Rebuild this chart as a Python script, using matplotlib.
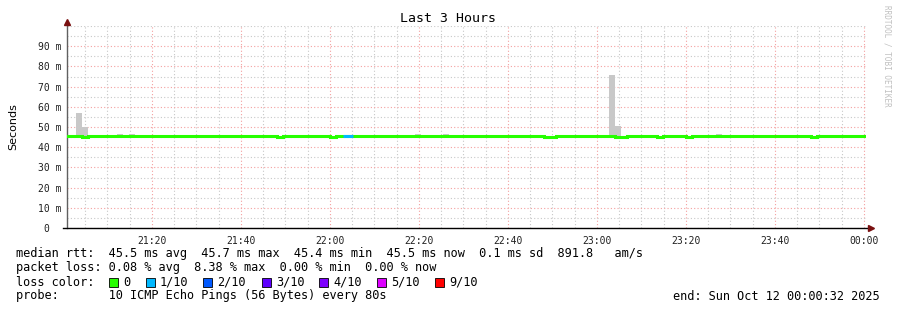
import matplotlib

matplotlib.use("Agg")
import matplotlib.pyplot as plt
from matplotlib.patches import Rectangle
from matplotlib.ticker import MultipleLocator

# time axis in minutes after 21:00, values in ms
x_start, x_end = 0.9, 180.45
x_tick_pos = [20, 40, 60, 80, 100, 120, 140, 160, 180]
x_tick_labels = ["21:20", "21:40", "22:00", "22:20", "22:40", "23:00", "23:20", "23:40", "00:00"]
y_tick_pos = [0, 10, 20, 30, 40, 50, 60, 70, 80, 90]
y_tick_labels = ["0  ", "10 m", "20 m", "30 m", "40 m", "50 m", "60 m", "70 m", "80 m", "90 m"]

# smoke (spread of pings) per 80 s step
smoke_start = [2.92, 4.27, 12.1, 14.8, 79.1, 85.4, 122.7, 124.0, 146.7]
smoke_top = [57.0, 50.0, 46.5, 46.5, 46.3, 46.3, 75.7, 50.5, 46.3]
smoke_bottom = 45.3
step_min = 80 / 60

# median rtt segments
med_start = [0.9, 4.27, 5.6, 48.1, 49.4, 60.0, 61.4, 62.9, 65.2, 108.1, 110.8,
             124.0, 126.7, 133.5, 134.8, 140.0, 141.3, 168.1, 169.4]
med_value = [45.5, 45.2, 45.5, 45.2, 45.5, 45.2, 45.5, 45.5, 45.5, 45.2, 45.5,
             45.2, 45.5, 45.2, 45.5, 45.2, 45.5, 45.2, 45.5]
med_loss = [0, 0, 0, 0, 0, 0, 0, 1, 0, 0, 0, 0, 0, 0, 0, 0, 0, 0, 0]

loss_labels = ["0", "1/10", "2/10", "3/10", "4/10", "5/10", "9/10"]
loss_colors = ["#26ff00", "#00b8ff", "#0059ff", "#5e00ff", "#7e00ff", "#dd00ff", "#ff0000"]
loss_x = [109, 146, 203, 262, 319, 377, 435]

W, H = 897, 310
fig = plt.figure(figsize=(W / 100, H / 100), dpi=100)
fig.patch.set_facecolor("white")
ax = fig.add_axes([67 / W, (H - 228) / H, (866 - 67) / W, 202 / H])

for s, t in zip(smoke_start, smoke_top):
    ax.bar(s, t - smoke_bottom, width=step_min, bottom=smoke_bottom, align="edge",
           color="#c8c8c8", linewidth=0, zorder=2)

# median as one continuous step line, loss-coloured steps drawn on top
ax.step(med_start + [x_end], med_value + [med_value[-1]], where="post",
        color=loss_colors[0], linewidth=2.2, solid_joinstyle="miter", zorder=3)
med_end = med_start[1:] + [x_end]
for s, e, v, l in zip(med_start, med_end, med_value, med_loss):
    if l > 0:
        ax.plot([s, e], [v, v], color=loss_colors[l], linewidth=2.2,
                solid_capstyle="butt", zorder=4)

ax.set_xlim(x_start, x_end)
ax.set_ylim(0, 100)
ax.set_xticks(x_tick_pos)
ax.set_xticklabels(x_tick_labels, family="DejaVu Sans Mono", fontsize=7)
ax.set_yticks(y_tick_pos)
ax.set_yticklabels(y_tick_labels, family="DejaVu Sans Mono", fontsize=7)
ax.xaxis.set_minor_locator(MultipleLocator(5))
ax.yaxis.set_minor_locator(MultipleLocator(5))
ax.tick_params(axis="y", which="both", length=0, pad=4, colors="#202020")
ax.tick_params(axis="x", which="both", length=0, pad=6, colors="#202020")
ax.grid(True, which="major", color="#f4a0a0", linestyle=(0, (1, 2)), linewidth=0.8)
ax.grid(True, which="minor", color="#c8c8c8", linestyle=(0, (1, 2)), linewidth=0.8)
ax.set_axisbelow(True)
for side in ("top", "right", "left", "bottom"):
    ax.spines[side].set_visible(False)
ax.set_ylabel("Seconds", family="DejaVu Sans", fontsize=8, labelpad=14)

# axes lines with arrows
ax.plot([0, 0], [0, 1.02], transform=ax.transAxes, color="#606060", lw=1, clip_on=False)
ax.plot([-0.005, 1.005], [0, 0], transform=ax.transAxes, color="black", lw=1, clip_on=False)
ax.plot([0], [1.02], marker="^", ms=4, color="#7a1010", transform=ax.transAxes, clip_on=False)
ax.plot([1.006], [0], marker=">", ms=4, color="#7a1010", transform=ax.transAxes, clip_on=False)


def ftext(x, y, s, **kw):
    kw.setdefault("family", "DejaVu Sans Mono")
    kw.setdefault("fontsize", 8.6)
    kw.setdefault("color", "black")
    fig.text(x / W, 1 - y / H, s, va="center", **kw)


ftext(448, 19, "Last 3 Hours", ha="center", fontsize=9.5)
ftext(16, 254, "median rtt:  45.5 ms avg  45.7 ms max  45.4 ms min  45.5 ms now  0.1 ms sd  891.8   am/s")
ftext(16, 268, "packet loss: 0.08 % avg  8.38 % max  0.00 % min  0.00 % now")
ftext(16, 282, "loss color:")
for lx, lab, col in zip(loss_x, loss_labels, loss_colors):
    fig.patches.append(Rectangle((lx / W, 1 - 287 / H), 9 / W, 9 / H, facecolor=col,
                                 edgecolor="black", linewidth=0.6, transform=fig.transFigure))
    ftext(lx + 14, 282, lab)
ftext(16, 296, "probe:       10 ICMP Echo Pings (56 Bytes) every 80s")
ftext(880, 296, "end: Sun Oct 12 00:00:32 2025", ha="right")
fig.text(887 / W, 1 - 5 / H, "RRDTOOL / TOBI OETIKER", rotation=-90, ha="center", va="top",
         family="DejaVu Sans Mono", fontsize=5.5, color="#c0c0c0")

fig.savefig("out.png", dpi=100)
